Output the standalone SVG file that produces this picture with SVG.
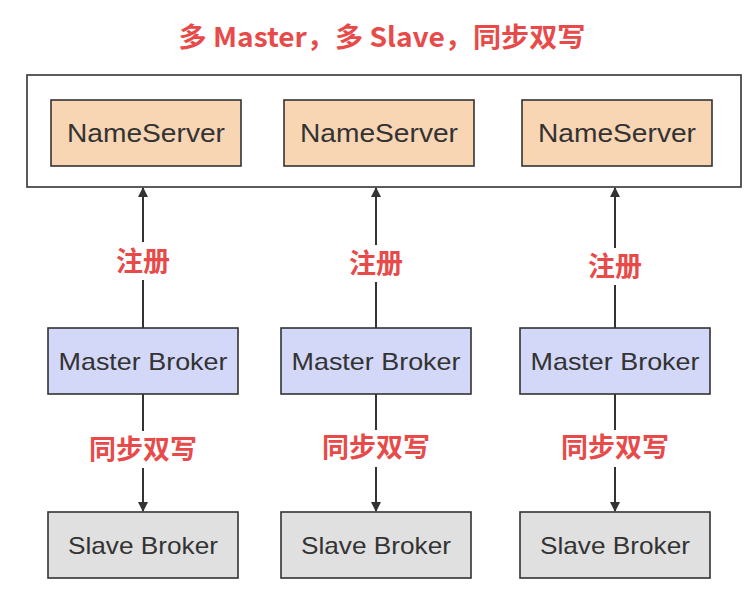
<svg xmlns="http://www.w3.org/2000/svg" width="749" height="597" viewBox="0 0 749 597">
<defs>
<style>
.box{stroke:#333;stroke-width:1.6}
.ns{fill:#f8d5b3}
.ms{fill:#d3d7f8}
.sl{fill:#e0e0e0}
.t{font-family:"Liberation Sans","Noto Sans CJK SC",sans-serif;fill:#333;text-anchor:middle;dominant-baseline:central}
.red{font-family:"Noto Sans CJK SC","Liberation Sans",sans-serif;fill:#e84a4a;font-weight:bold;text-anchor:middle;dominant-baseline:central}
.ln{stroke:#333;stroke-width:2;fill:none}
</style>
<marker id="ah" markerWidth="10" markerHeight="12" refX="9" refY="5" orient="auto" markerUnits="userSpaceOnUse">
<path d="M0,0 L10,5 L0,10 z" fill="#333"/>
</marker>
</defs>
<rect width="749" height="597" fill="#fff"/>
<text id="title" class="red" x="382" y="35" font-size="27" textLength="407" lengthAdjust="spacingAndGlyphs">多 Master，多 Slave，同步双写</text>
<g id="cluster"><rect class="box" x="27" y="75" width="714" height="112" fill="#fff"/></g>
<g id="ns1"><rect class="box ns" x="51" y="100" width="190" height="66"/><text class="t" x="146" y="133" font-size="26" textLength="158" lengthAdjust="spacingAndGlyphs">NameServer</text></g>
<g id="ns2"><rect class="box ns" x="284" y="100" width="190" height="66"/><text class="t" x="379" y="133" font-size="26" textLength="158" lengthAdjust="spacingAndGlyphs">NameServer</text></g>
<g id="ns3"><rect class="box ns" x="522" y="100" width="190" height="66"/><text class="t" x="617" y="133" font-size="26" textLength="158" lengthAdjust="spacingAndGlyphs">NameServer</text></g>
<g id="m1"><rect class="box ms" x="48" y="328" width="190" height="66"/><text class="t" x="143" y="361" font-size="24" textLength="169" lengthAdjust="spacingAndGlyphs">Master Broker</text></g>
<g id="m2"><rect class="box ms" x="281" y="328" width="190" height="66"/><text class="t" x="376" y="361" font-size="24" textLength="169" lengthAdjust="spacingAndGlyphs">Master Broker</text></g>
<g id="m3"><rect class="box ms" x="520" y="328" width="190" height="66"/><text class="t" x="615" y="361" font-size="24" textLength="169" lengthAdjust="spacingAndGlyphs">Master Broker</text></g>
<g id="s1"><rect class="box sl" x="48" y="512" width="190" height="66"/><text class="t" x="143" y="545" font-size="24" textLength="150" lengthAdjust="spacingAndGlyphs">Slave Broker</text></g>
<g id="s2"><rect class="box sl" x="281" y="512" width="190" height="66"/><text class="t" x="376" y="545" font-size="24" textLength="150" lengthAdjust="spacingAndGlyphs">Slave Broker</text></g>
<g id="s3"><rect class="box sl" x="520" y="512" width="190" height="66"/><text class="t" x="615" y="545" font-size="24" textLength="150" lengthAdjust="spacingAndGlyphs">Slave Broker</text></g>
<g id="connectors">
<path class="ln" d="M143,328 V280"/><path class="ln" d="M143,242 V188" marker-end="url(#ah)"/>
<path class="ln" d="M376,328 V282"/><path class="ln" d="M376,245 V188" marker-end="url(#ah)"/>
<path class="ln" d="M615,328 V285"/><path class="ln" d="M615,248 V188" marker-end="url(#ah)"/>
<path class="ln" d="M143,394 V431"/><path class="ln" d="M143,468 V511" marker-end="url(#ah)"/>
<path class="ln" d="M376,394 V430"/><path class="ln" d="M376,467 V511" marker-end="url(#ah)"/>
<path class="ln" d="M615,394 V430"/><path class="ln" d="M615,467 V511" marker-end="url(#ah)"/>
<text class="red" x="143" y="259" font-size="27">注册</text>
<text class="red" x="376" y="261" font-size="27">注册</text>
<text class="red" x="615" y="264" font-size="27">注册</text>
<text class="red" x="143" y="447" font-size="27">同步双写</text>
<text class="red" x="376" y="445" font-size="27">同步双写</text>
<text class="red" x="615" y="445" font-size="27">同步双写</text>
</g>
</svg>
